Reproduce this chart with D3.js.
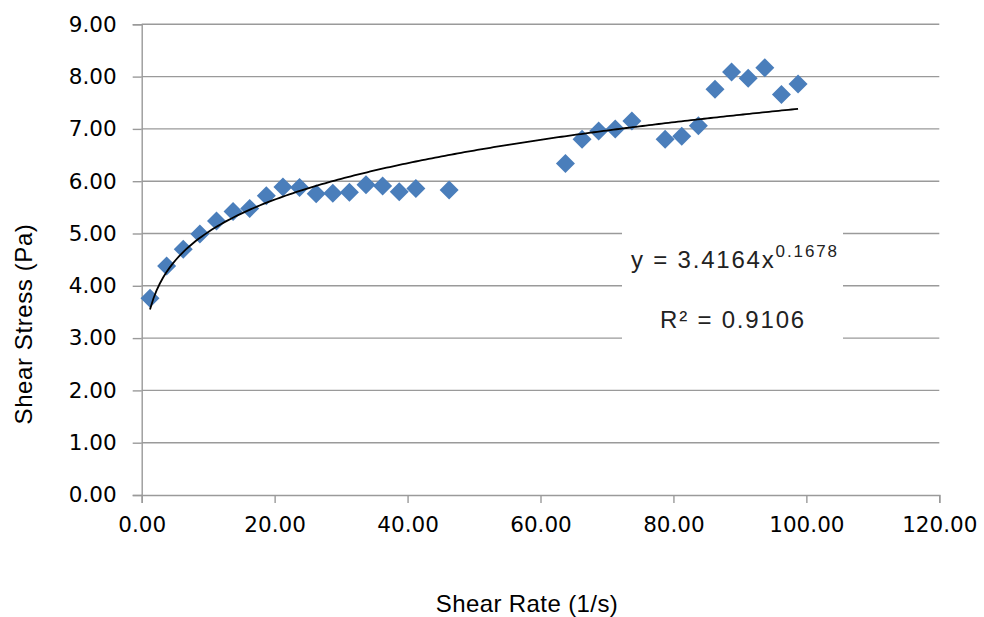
<!DOCTYPE html>
<html>
<head>
<meta charset="utf-8">
<script src="https://cdn.jsdelivr.net/npm/d3@7"></script>
<style>
  body { margin: 0; background: #fff; }
  svg { display: block; }
</style>
</head>
<body>
<svg id="chart" width="984" height="617"></svg>
<script>
// measured points (shear rate 1/s, shear stress Pa)
const shearRate = [1.25, 3.75, 6.25, 8.75, 11.25, 13.75, 16.25, 18.75, 21.25, 23.75,
    26.25, 28.75, 31.25, 33.75, 36.25, 38.75, 41.25, 46.25,
    63.75, 66.25, 68.75, 71.25, 73.75, 78.75, 81.25, 83.75, 86.25, 88.75, 91.25, 93.75, 96.25, 98.75]
const shearStress = [3.76, 4.38, 4.70, 4.99, 5.24, 5.42, 5.48, 5.72, 5.89, 5.88,
    5.76, 5.77, 5.79, 5.93, 5.91, 5.80, 5.86, 5.83,
    6.34, 6.80, 6.96, 7.00, 7.15, 6.80, 6.86, 7.06, 7.76, 8.09, 7.97, 8.17, 7.66, 7.86]

const xTicks = [0, 20, 40, 60, 80, 100, 120]
const yTicks = [0, 1, 2, 3, 4, 5, 6, 7, 8, 9]

// power trendline y = a * x^b
const fitA = 3.4164
const fitB = 0.1678
const fitR2 = 0.9106

const svg = d3.select('#chart')

const x = d3.scaleLinear().domain([0, 120]).range([141.7, 939.3])
const y = d3.scaleLinear().domain([0, 9]).range([495, 24.3])

const gridColor = '#9a9a9a'
const tickFont = '"DejaVu Sans", sans-serif'
const labelFont = '"Liberation Sans", Arial, sans-serif'

// horizontal gridlines
svg.append('g')
    .selectAll('line')
    .data(yTicks.filter(d => d > 0))
    .join('line')
    .attr('x1', x(0))
    .attr('x2', x(120))
    .attr('y1', d => y(d))
    .attr('y2', d => y(d))
    .style('stroke', gridColor)
    .style('stroke-width', 1.4)

// y axis
const yAxis = svg.append('g')
    .attr('transform', 'translate(' + x(0) + ',0)')
    .call(d3.axisLeft(y).tickValues(yTicks).tickSize(9).tickPadding(16).tickFormat(d3.format('.2f')))
yAxis.select('.domain').style('stroke', gridColor).style('stroke-width', 1.4)
yAxis.selectAll('.tick line').style('stroke', gridColor).style('stroke-width', 1.4)
yAxis.selectAll('.tick text')
    .style('font-family', tickFont)
    .style('font-size', '21.5px')
    .style('fill', '#000')

// x axis
const xAxis = svg.append('g')
    .attr('transform', 'translate(0,' + y(0) + ')')
    .call(d3.axisBottom(x).tickValues(xTicks).tickSize(8).tickPadding(14).tickFormat(d3.format('.2f')))
xAxis.select('.domain').style('stroke', gridColor).style('stroke-width', 1.4)
xAxis.selectAll('.tick line').style('stroke', gridColor).style('stroke-width', 1.4)
xAxis.selectAll('.tick text')
    .style('font-family', tickFont)
    .style('font-size', '21.5px')
    .style('fill', '#000')

// trendline
const xMin = d3.min(shearRate)
const xMax = d3.max(shearRate)
const fitX = d3.range(0, 201).map(i => xMin + (xMax - xMin) * i / 200)
const line = d3.line()
    .x(d => x(d))
    .y(d => y(fitA * Math.pow(d, fitB)))

// markers
const pts = shearRate.map((d, i) => ({ x: d, y: shearStress[i] }))
const r = 9.5
svg.append('g')
    .selectAll('path')
    .data(pts)
    .join('path')
    .attr('d', d => {
        const cx = x(d.x), cy = y(d.y)
        return 'M' + cx + ',' + (cy - r) + 'L' + (cx + r) + ',' + cy + 'L' + cx + ',' + (cy + r) + 'L' + (cx - r) + ',' + cy + 'Z'
    })
    .style('fill', '#4a7ebb')

svg.append('path')
    .datum(fitX)
    .attr('d', line)
    .style('fill', 'none')
    .style('stroke', '#000')
    .style('stroke-width', 1.8)

// equation label
svg.append('rect')
    .attr('x', 622)
    .attr('y', 227)
    .attr('width', 221)
    .attr('height', 118)
    .style('fill', '#fff')

const eq = svg.append('text')
    .attr('x', 631)
    .attr('y', 268)
    .style('font-family', labelFont)
    .style('font-size', '24px')
    .style('letter-spacing', '1.8px')
    .style('fill', '#222')
eq.append('tspan').text('y = ' + fitA + 'x')
eq.append('tspan').attr('dy', -11.5).style('font-size', '17px').style('letter-spacing', '1.9px').text(fitB)

svg.append('text')
    .attr('x', 733)
    .attr('y', 328)
    .attr('text-anchor', 'middle')
    .style('font-family', labelFont)
    .style('font-size', '24px')
    .style('letter-spacing', '1.8px')
    .style('fill', '#222')
    .text('R² = ' + fitR2)

// axis titles
svg.append('text')
    .attr('x', 527)
    .attr('y', 611.5)
    .attr('text-anchor', 'middle')
    .style('font-family', labelFont)
    .style('font-size', '24px')
    .style('letter-spacing', '0.4px')
    .style('fill', '#000')
    .text('Shear Rate (1/s)')

svg.append('text')
    .attr('transform', 'translate(31.5,324) rotate(-90)')
    .attr('text-anchor', 'middle')
    .style('font-family', labelFont)
    .style('font-size', '24px')
    .style('letter-spacing', '0.6px')
    .style('fill', '#000')
    .text('Shear Stress (Pa)')
</script>
</body>
</html>
